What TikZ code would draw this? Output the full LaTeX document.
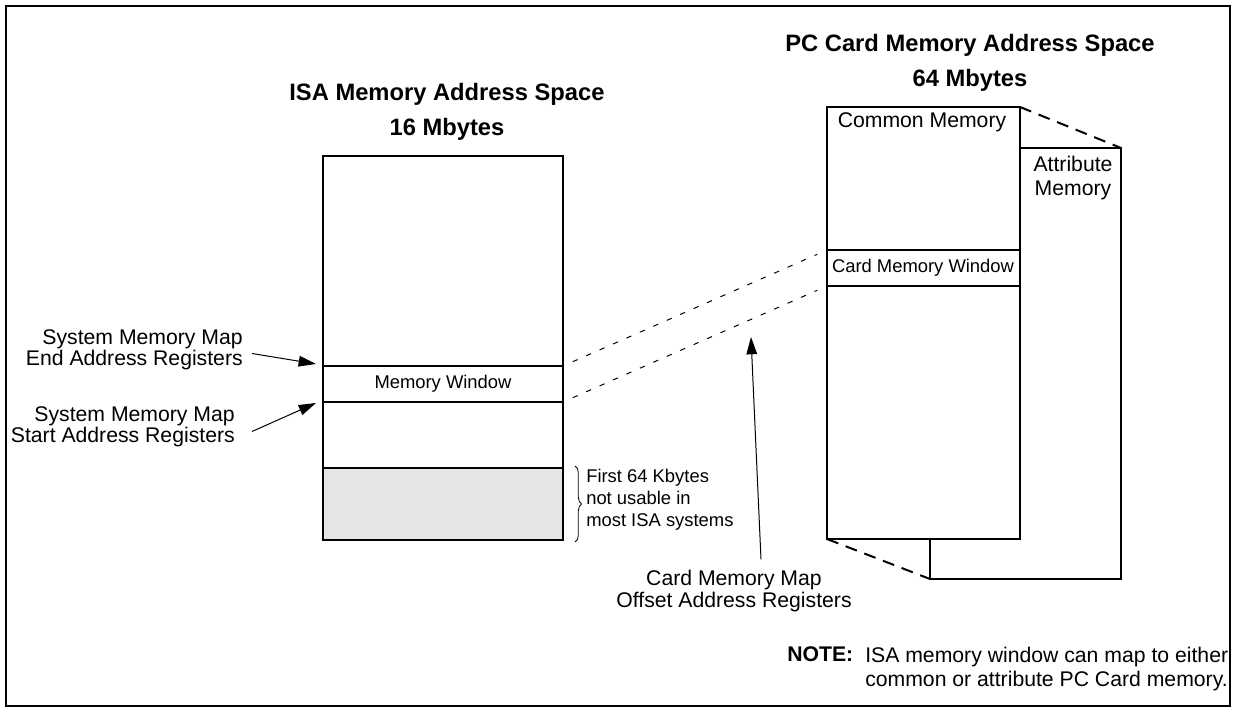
\documentclass[tikz,border=0pt]{standalone}
\usepackage{fontspec}
\setmainfont{Liberation Sans}
\usepackage{xcolor}
\usepackage{tikz}
\usetikzlibrary{arrows.meta,decorations.pathreplacing}
\definecolor{lowmem}{RGB}{229,229,229}
\tikzset{
  boxline/.style={line width=1.9pt},
  mapline/.style={line width=0.75pt, dash pattern=on 4pt off 7pt},
  foldline/.style={line width=1.5pt, dash pattern=on 9pt off 6pt},
  regarrow/.style={line width=0.75pt, -{Triangle[length=13pt,width=8pt]}},
  ttl/.style={font=\fontsize{17.8}{26}\selectfont\bfseries, align=center, inner sep=0.75pt},
  lbl/.style={font=\fontsize{15.9}{15.8}\selectfont, inner sep=0.75pt},
  smalllbl/.style={font=\fontsize{13.8}{16.5}\selectfont, inner sep=0.75pt},
}
\begin{document}
\begin{tikzpicture}[x=0.75pt,y=0.75pt,yscale=-1,xscale=1]
\useasboundingbox (0,0) rectangle (1233,712);

\draw [line width=1.1pt] (6,6) -- (1230,6) -- (1230,706) -- (6,706) -- cycle ;

\coordinate (isawintop) at (563,366);
\coordinate (isawinbot) at (563,402);
\coordinate (cardwintop) at (827,250);
\coordinate (cardwinbot) at (827,286);
\coordinate (comtr) at (1020,107);
\coordinate (attrtr) at (1121,148);
\coordinate (combl) at (827,539);
\coordinate (attrbl) at (930,579);
\coordinate (endtip) at (316,364);
\coordinate (starttip) at (316,403);
\coordinate (offtip) at (751,337);

% isa space
\fill [lowmem] (323,468) -- (563,468) -- (563,540) -- (323,540) -- cycle ;
\draw [boxline] (323,156) -- (563,156) -- (563,540) -- (323,540) -- cycle ;
\draw [boxline] (323,366) -- (563,366) ;
\draw [boxline] (323,402) -- (563,402) ;
\draw [boxline] (323,468) -- (563,468) ;

% pc card space
\draw [foldline] (comtr) -- (attrtr) ;
\draw [foldline] (combl) -- (attrbl) ;
\draw [boxline] (930,148) -- (1121,148) -- (1121,579) -- (930,579) -- cycle ;
\draw [boxline, fill=white] (827,107) -- (1020,107) -- (1020,539) -- (827,539) -- cycle ;
\draw [boxline] (827,250) -- (1020,250) ;
\draw [boxline] (827,286) -- (1020,286) ;

\draw [mapline, shorten <=8pt, shorten >=8pt] (isawintop) -- (cardwintop) ;
\draw [mapline, shorten <=8pt, shorten >=8pt] (isawinbot) -- (cardwinbot) ;

\draw [decorate, decoration={brace, amplitude=5pt}, line width=0.6pt] (575,466) -- (575,542) ;

\draw (447,112) node (isattl) [ttl] {ISA Memory Address Space\\16 Mbytes};
\draw (970,63) node (pcttl) [ttl] {PC Card Memory Address Space\\64 Mbytes};
\draw (443,384) node (memwin) [smalllbl] {Memory Window};
\draw (923,268) node (cardwin) [smalllbl] {Card Memory Window};
\draw (922,122) node (common) [lbl] {Common Memory};
\draw (1073,178) node (attr) [lbl, align=center, font=\fontsize{15.9}{18}\selectfont] {Attribute\\Memory};
\draw (244,350) node (endreg) [lbl, anchor=east, align=right] {System Memory Map\\End Address Registers};
\draw (236,427) node (startreg) [lbl, anchor=east, align=right] {System Memory Map\\Start Address Registers};
\draw (734,591) node (offreg) [lbl, align=center] {Card Memory Map\\Offset Address Registers};
\draw (585,500) node (lowtxt) [smalllbl, anchor=west, align=left] {First 64 Kbytes\\not usable in\\most ISA systems};
\draw (786,662) node (notehd) [lbl, anchor=base west, font=\fontsize{15.9}{18}\selectfont\bfseries] {NOTE:};
\draw (864,646) node (notetxt) [lbl, anchor=north west, align=left, font=\fontsize{15.9}{18}\selectfont] {ISA memory window can map to either\\common or attribute PC Card memory.};

\draw [regarrow] (endreg.east) ++(8,3.5) -- (endtip) ;
\draw [regarrow] (startreg.east) ++(16,4.5) -- (starttip) ;
\draw [regarrow] (offreg.north) ++(27,-10) -- (offtip) ;
\end{tikzpicture}
\end{document}
